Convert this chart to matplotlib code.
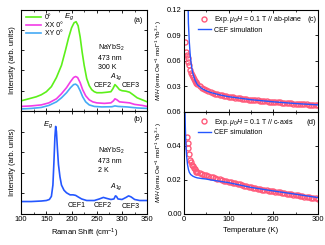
import numpy as np
import matplotlib
matplotlib.use('Agg')
import matplotlib.pyplot as plt
from matplotlib.ticker import MultipleLocator, NullFormatter

# ---- panel (a): Raman 300 K, three polarisations ----
x_0deg = [100, 115, 130, 140, 150, 160, 170, 180, 188, 194, 200, 205, 209, 213, 217, 221, 225, 230, 235,
          240, 245, 250, 260, 270, 278, 282, 286, 290, 295, 300, 308, 315, 322, 330, 340, 350]
y_0deg = [0.10, 0.12, 0.14, 0.16, 0.19, 0.24, 0.33, 0.45, 0.60, 0.72, 0.82, 0.87, 0.88, 0.84, 0.73, 0.58, 0.45,
          0.32, 0.25, 0.21, 0.19, 0.18, 0.18, 0.185, 0.19, 0.22, 0.26, 0.24, 0.21, 0.20, 0.195, 0.185, 0.16,
          0.13, 0.11, 0.09]

x_xx = [100, 120, 140, 155, 170, 180, 190, 198, 204, 208, 212, 217, 222, 228, 235, 242, 250, 265, 278, 283,
        286, 290, 295, 305, 315, 325, 340, 350]
y_xx = [0.045, 0.05, 0.06, 0.08, 0.12, 0.17, 0.23, 0.29, 0.33, 0.34, 0.33, 0.28, 0.21, 0.15, 0.11, 0.09, 0.08,
        0.075, 0.08, 0.10, 0.12, 0.11, 0.09, 0.085, 0.08, 0.065, 0.055, 0.045]

x_xy = [100, 120, 140, 155, 170, 180, 190, 198, 204, 208, 212, 217, 222, 228, 235, 245, 260, 280, 286, 292,
        310, 330, 350]
y_xy = [0.02, 0.025, 0.035, 0.055, 0.09, 0.13, 0.18, 0.23, 0.26, 0.265, 0.25, 0.20, 0.14, 0.09, 0.06, 0.045,
        0.04, 0.042, 0.05, 0.045, 0.04, 0.03, 0.025]

# ---- panel (b): Raman 2 K ----
x_2k = [100, 120, 140, 150, 156, 160, 163, 165, 167, 168.5, 170, 172, 174, 177, 180, 185, 190, 197, 203, 208,
        213, 220, 230, 245, 255, 263, 270, 278, 284, 287, 289, 292, 300, 308, 313, 318, 325, 335, 350]
y_2k = [0.12, 0.12, 0.125, 0.13, 0.14, 0.17, 0.28, 0.50, 0.75, 0.85, 0.80, 0.63, 0.48, 0.36, 0.28, 0.23, 0.205,
        0.185, 0.185, 0.18, 0.165, 0.145, 0.13, 0.13, 0.145, 0.16, 0.15, 0.14, 0.145, 0.175, 0.17, 0.145, 0.14,
        0.16, 0.175, 0.165, 0.14, 0.13, 0.13]

# ---- panel (c): M/H, field in ab-plane ----
T_c_low = [2, 4, 6, 8, 10, 12, 14, 16, 18, 20, 22, 24, 26, 28]
chi_c_low = [0.0817, 0.0700, 0.0667, 0.0628, 0.0590, 0.0545, 0.0495, 0.0460, 0.0430, 0.0408, 0.0385, 0.0368,
             0.0352, 0.0337]
T_high = list(range(30, 301, 5))
chi_c_high = [0.0325, 0.0302, 0.0284, 0.0268, 0.0255, 0.0243, 0.0232, 0.0223, 0.0214, 0.0206, 0.0199, 0.0193,
              0.0188, 0.0183, 0.0178, 0.0174, 0.0170, 0.0166, 0.0162, 0.0158, 0.0155, 0.0152, 0.0149, 0.0146,
              0.0143, 0.0140, 0.0138, 0.0135, 0.0132, 0.0130, 0.0127, 0.0125, 0.0122, 0.0120, 0.0118, 0.0116,
              0.0113, 0.0111, 0.0109, 0.0107, 0.0105, 0.0103, 0.0101, 0.0099, 0.0098, 0.0096, 0.0094, 0.0092,
              0.0091, 0.0089, 0.0087, 0.0086, 0.0084, 0.0083, 0.0081]
T_cef_c = [8, 9.5, 10, 12, 14, 16, 18, 20, 25, 30, 40, 50, 60, 80, 100, 150, 200, 250, 300]
chi_cef_c = [0.145, 0.12, 0.104, 0.082, 0.067, 0.057, 0.050, 0.045, 0.037, 0.032, 0.0275, 0.0248, 0.0228,
             0.0200, 0.0179, 0.0144, 0.0119, 0.0099, 0.0083]

# ---- panel (d): M/H, field along c-axis ----
T_d_low = [6, 8, 10, 12, 14, 16, 18, 20, 22, 24, 26, 28]
chi_d_low = [0.0453, 0.0418, 0.0385, 0.0350, 0.0320, 0.0303, 0.0290, 0.0279, 0.0270, 0.0262, 0.0255, 0.0248]
chi_d_high = [0.0245, 0.0239, 0.0234, 0.0230, 0.0226, 0.0223, 0.0220, 0.0216, 0.0212, 0.0208, 0.0204, 0.0200,
              0.0196, 0.0192, 0.0189, 0.0186, 0.0183, 0.0180, 0.0177, 0.0173, 0.0170, 0.0167, 0.0164, 0.0161,
              0.0157, 0.0154, 0.0151, 0.0147, 0.0145, 0.0143, 0.0141, 0.0139, 0.0136, 0.0134, 0.0132, 0.0130,
              0.0128, 0.0126, 0.0124, 0.0122, 0.0119, 0.0117, 0.0115, 0.0113, 0.0111, 0.0109, 0.0107, 0.0105,
              0.0102, 0.0100, 0.0098, 0.0096, 0.0094, 0.0092, 0.0090]
T_cef_d = [2, 3, 4, 5, 6, 8, 10, 12, 15, 20, 25, 30, 40, 50, 60, 80, 100, 150, 200, 250, 300]
chi_cef_d = [0.065, 0.052, 0.043, 0.038, 0.034, 0.029, 0.0262, 0.0245, 0.0232, 0.0222, 0.0216, 0.0212, 0.0208,
             0.0205, 0.0200, 0.0192, 0.0184, 0.0156, 0.0135, 0.0116, 0.0096]

GREEN = '#5cf01a'
MAGENTA = '#f23ce6'
LIGHTBLUE = '#45aaf5'
BLUE = '#2457ff'
RED = '#ff5a7a'

plt.rcParams['font.family'] = ['Liberation Sans', 'DejaVu Sans']
plt.rcParams['font.size'] = 5.5
plt.rcParams['axes.linewidth'] = 0.8
plt.rcParams['mathtext.fontset'] = 'custom'
plt.rcParams['mathtext.rm'] = 'Liberation Sans'
plt.rcParams['mathtext.it'] = 'Liberation Sans:italic'

fig = plt.figure(figsize=(3.25, 2.45), dpi=100)
axa = fig.add_axes([0.065, 0.547, 0.388, 0.414])
axb = fig.add_axes([0.065, 0.127, 0.388, 0.420])
axc = fig.add_axes([0.566, 0.543, 0.412, 0.418])
axd = fig.add_axes([0.566, 0.127, 0.412, 0.416])

for ax in (axa, axb, axc, axd):
    ax.tick_params(direction='in', top=True, right=True, length=2, width=0.6, pad=1.5, labelsize=5.5)
    ax.tick_params(which='minor', direction='in', top=True, right=True, length=1.2, width=0.5)

# (a)
axa.plot(x_0deg, y_0deg, color=GREEN, lw=1.2, label='0°')
axa.plot(x_xx, y_xx, color=MAGENTA, lw=1.2, label='XX 0°')
axa.plot(x_xy, y_xy, color=LIGHTBLUE, lw=1.2, label='XY 0°')
axa.set_xlim(100, 350)
axa.set_ylim(0, 1)
axa.xaxis.set_major_locator(MultipleLocator(50))
axa.xaxis.set_minor_locator(MultipleLocator(25))
axa.yaxis.set_major_locator(MultipleLocator(0.2))
axa.xaxis.set_major_formatter(NullFormatter())
axa.yaxis.set_major_formatter(NullFormatter())
axa.set_ylabel('Intensity (arb. units)', labelpad=2)
axa.legend(loc='upper left', frameon=False, fontsize=5, handlelength=2.2, handletextpad=0.5,
           labelspacing=0.15, borderaxespad=0.3)
axa.text(332, 0.93, '(a)', ha='center', va='top')
axa.text(194, 0.88, '$E_g$', ha='center', va='bottom', fontsize=5.5)
axa.text(252, 0.67, 'NaYbS$_2$\n473 nm\n300 K', ha='left', va='top', fontsize=5, linespacing=1.4)
axa.text(261, 0.22, 'CEF2', ha='center', va='bottom', fontsize=5)
axa.text(288, 0.29, '$A_{1g}$', ha='center', va='bottom', fontsize=5)
axa.text(318, 0.22, 'CEF3', ha='center', va='bottom', fontsize=5)

# (b)
axb.plot(x_2k, y_2k, color=BLUE, lw=1.2)
axb.set_xlim(100, 350)
axb.set_ylim(0, 1)
axb.xaxis.set_major_locator(MultipleLocator(50))
axb.xaxis.set_minor_locator(MultipleLocator(25))
axb.yaxis.set_major_locator(MultipleLocator(0.2))
axb.yaxis.set_major_formatter(NullFormatter())
axb.set_ylabel('Intensity (arb. units)', labelpad=2)
axb.set_xlabel('Raman Shift (cm$^{-1}$)', labelpad=3)
axb.text(332, 0.95, '(b)', ha='center', va='top')
axb.text(153, 0.82, '$E_g$', ha='center', va='bottom', fontsize=5.5)
axb.text(252, 0.66, 'NaYbS$_2$\n473 nm\n2 K', ha='left', va='top', fontsize=5, linespacing=1.4)
axb.text(210, 0.05, 'CEF1', ha='center', va='bottom', fontsize=5)
axb.text(262, 0.05, 'CEF2', ha='center', va='bottom', fontsize=5)
axb.text(288, 0.21, '$A_{1g}$', ha='center', va='bottom', fontsize=5)
axb.text(318, 0.04, 'CEF3', ha='center', va='bottom', fontsize=5)

# (c)
axc.plot(T_c_low + T_high, chi_c_low + chi_c_high, 'o', ms=3.6, mfc='none', mec=RED, mew=1.0,
         label='Exp. $\\mu_0H$ = 0.1 T // ab-plane')
axc.plot(T_cef_c, chi_cef_c, color=BLUE, lw=1.0, label='CEF simulation')
axc.set_xlim(0, 300)
axc.set_ylim(0, 0.12)
axc.set_yticks([0.03, 0.06, 0.09, 0.12])
axc.xaxis.set_major_locator(MultipleLocator(100))
axc.xaxis.set_minor_locator(MultipleLocator(50))
axc.xaxis.set_major_formatter(NullFormatter())
axc.yaxis.set_major_formatter(matplotlib.ticker.FormatStrFormatter('%.2f'))
axc.set_ylabel('$M/H$ (emu Oe$^{-1}$ mol$^{-1}$ Yb$^{3+}$)', fontsize=4.6, labelpad=2)
axc.legend(loc='upper left', bbox_to_anchor=(0.07, 1.0), frameon=False, fontsize=5, handlelength=1.8,
           handletextpad=0.5, labelspacing=0.2, borderaxespad=0.3)
axc.text(286, 0.108, '(c)', ha='center', va='center')

# (d)
axd.plot(T_d_low + T_high, chi_d_low + chi_d_high, 'o', ms=3.6, mfc='none', mec=RED, mew=1.0,
         label='Exp. $\\mu_0H$ = 0.1 T // c-axis')
axd.plot(T_cef_d, chi_cef_d, color=BLUE, lw=1.0, label='CEF simulation')
axd.set_xlim(0, 300)
axd.set_ylim(0, 0.06)
axd.set_yticks([0.00, 0.02, 0.04, 0.06])
axd.xaxis.set_major_locator(MultipleLocator(100))
axd.xaxis.set_minor_locator(MultipleLocator(50))
axd.yaxis.set_major_formatter(matplotlib.ticker.FormatStrFormatter('%.2f'))
axd.set_ylabel('$M/H$ (emu Oe$^{-1}$ mol$^{-1}$ Yb$^{3+}$)', fontsize=4.6, labelpad=2)
axd.set_xlabel('Temperature (K)', labelpad=3)
axd.legend(loc='upper left', bbox_to_anchor=(0.07, 1.0), frameon=False, fontsize=5, handlelength=1.8,
           handletextpad=0.5, labelspacing=0.2, borderaxespad=0.3)
axd.text(286, 0.054, '(d)', ha='center', va='center')

fig.savefig('out.png', dpi=100)
